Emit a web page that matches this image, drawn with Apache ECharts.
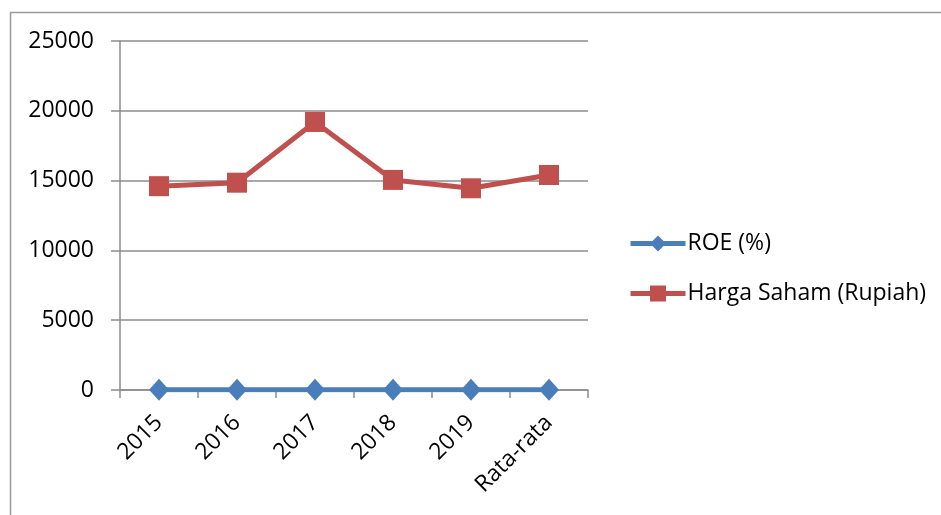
<!DOCTYPE html>
<html>
<head>
<meta charset="utf-8">
<script src="https://cdn.jsdelivr.net/npm/echarts@6/dist/echarts.min.js"></script>
<style>
  html, body { margin: 0; padding: 0; background: #fff; }
  #chart { width: 941px; height: 515px; }
</style>
</head>
<body>
<div id="chart"></div>
<script>
// Categories along the x axis
const categories = ['2015', '2016', '2017', '2018', '2019', 'Rata-rata'];
// ROE in percent
const roeValues = [12, 14, 9, 11, 13, 12];
// Share price in Rupiah
const hargaSahamValues = [14600, 14850, 19200, 15050, 14450, 15400];
// Value axis ticks
const yMin = 0, yMax = 25000, yStep = 5000;

const FONT = 'Open Sans';
const FONT_SIZE = 23;
const GRID_COLOR = '#8c8c8c';

const chart = echarts.init(document.getElementById('chart'));
chart.setOption({
  animation: false,
  textStyle: { fontFamily: FONT },
  graphic: [{
    type: 'rect',
    shape: { x: 10.5, y: 12.5, width: 1000, height: 1000 },
    style: { fill: 'none', stroke: '#9a9a9a', lineWidth: 1.5 },
    silent: true
  }],
  grid: { left: 120, top: 41, width: 468, height: 349, containLabel: false },
  legend: {
    orient: 'vertical',
    left: 628,
    top: 232,
    padding: 0,
    itemWidth: 55,
    itemHeight: 20,
    itemGap: 27,
    lineStyle: { width: 5 },
    textStyle: { fontFamily: FONT, fontSize: FONT_SIZE, color: '#000', padding: [0, 0, 0, -3] },
    data: ['ROE (%)', 'Harga Saham (Rupiah)']
  },
  xAxis: {
    type: 'category',
    data: categories,
    boundaryGap: true,
    axisLine: { lineStyle: { color: GRID_COLOR, width: 1.5 } },
    axisTick: { show: true, alignWithLabel: false, length: 8, lineStyle: { color: GRID_COLOR, width: 1.5 } },
    axisLabel: { rotate: 45, fontFamily: FONT, fontSize: FONT_SIZE, color: '#000', margin: 29, interval: 0 }
  },
  yAxis: {
    type: 'value',
    min: yMin, max: yMax, interval: yStep,
    axisLine: { show: true, lineStyle: { color: GRID_COLOR, width: 1.5 } },
    axisTick: { show: true, length: 9, lineStyle: { color: GRID_COLOR, width: 1.5 } },
    splitLine: { lineStyle: { color: GRID_COLOR, width: 1.5 } },
    axisLabel: { fontFamily: FONT, fontSize: FONT_SIZE, color: '#000', margin: 26, formatter: v => String(v) }
  },
  series: [
    {
      name: 'ROE (%)',
      type: 'line',
      data: roeValues,
      symbol: 'diamond',
      symbolSize: [20, 22],
      lineStyle: { color: '#4a7ebb', width: 5 },
      itemStyle: { color: '#4a7ebb' },
      z: 3
    },
    {
      name: 'Harga Saham (Rupiah)',
      type: 'line',
      data: hargaSahamValues,
      symbol: 'rect',
      symbolSize: 20,
      lineStyle: { color: '#c0504d', width: 5 },
      itemStyle: { color: '#c0504d' },
      z: 4
    }
  ]
});
</script>
</body>
</html>
